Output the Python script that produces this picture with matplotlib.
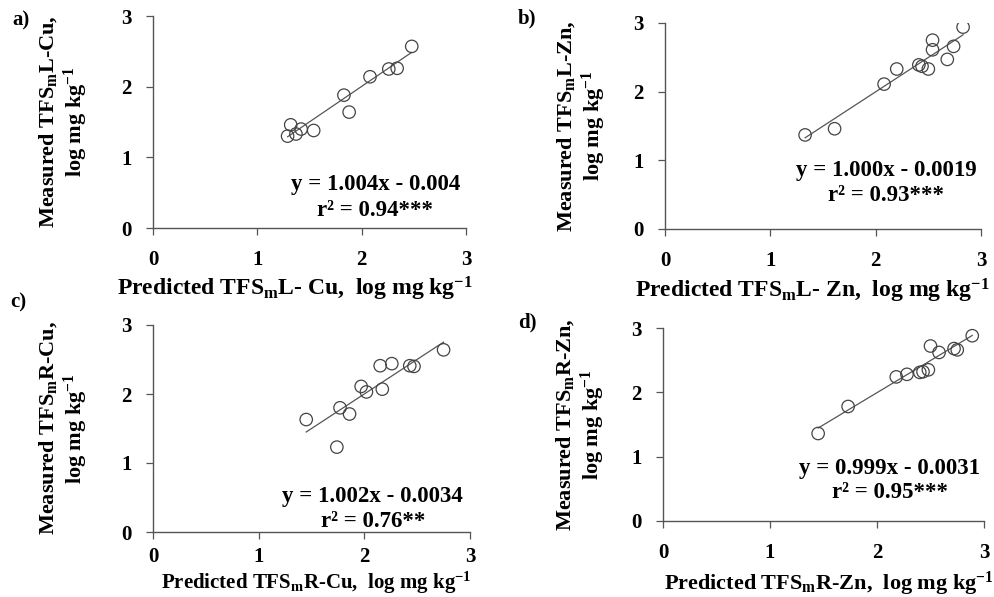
import matplotlib
matplotlib.use('Agg')
import matplotlib.pyplot as plt
import numpy as np

plt.rcParams['font.family'] = 'Liberation Serif'
plt.rcParams['font.weight'] = 'bold'
plt.rcParams['mathtext.fontset'] = 'custom'
plt.rcParams['mathtext.rm'] = 'Liberation Serif:bold'
plt.rcParams['mathtext.bf'] = 'Liberation Serif:bold'
plt.rcParams['mathtext.it'] = 'Liberation Serif:bold'

# a) TFSmL-Cu
a_pred = [1.29, 1.32, 1.37, 1.42, 1.54, 1.83, 1.88, 2.08, 2.26, 2.34, 2.48]
a_meas = [1.30, 1.46, 1.33, 1.40, 1.38, 1.88, 1.64, 2.14, 2.25, 2.26, 2.57]
# b) TFSmL-Zn
b_pred = [1.33, 1.61, 2.08, 2.20, 2.41, 2.44, 2.50, 2.54, 2.54, 2.68, 2.74, 2.83]
b_meas = [1.37, 1.46, 2.11, 2.33, 2.39, 2.37, 2.33, 2.75, 2.61, 2.47, 2.66, 2.94]
# c) TFSmR-Cu
c_pred = [1.45, 1.74, 1.77, 1.86, 1.97, 2.02, 2.15, 2.17, 2.26, 2.43, 2.47, 2.75]
c_meas = [1.63, 1.23, 1.80, 1.71, 2.11, 2.03, 2.41, 2.07, 2.44, 2.41, 2.40, 2.64]
# d) TFSmR-Zn
d_pred = [1.45, 1.73, 2.18, 2.28, 2.40, 2.43, 2.48, 2.50, 2.58, 2.72, 2.75, 2.89]
d_meas = [1.36, 1.78, 2.24, 2.28, 2.31, 2.32, 2.35, 2.72, 2.62, 2.68, 2.66, 2.88]

slopes = [1.004, 1.000, 1.002, 0.999]
intercepts = [-0.004, -0.0019, -0.0034, -0.0031]
eq_text = ['y = 1.004x - 0.004', 'y = 1.000x - 0.0019',
           'y = 1.002x - 0.0034', 'y = 0.999x - 0.0031']
r2_text = ['r² = 0.94***', 'r² = 0.93***', 'r² = 0.76**', 'r² = 0.95***']
panel_labels = ['a)', 'b)', 'c)', 'd)']
xlabels = ['Predicted TFS$_\\mathrm{m}$L- Cu,  log mg kg$^{-1}$',
           'Predicted TFS$_\\mathrm{m}$L- Zn,  log mg kg$^{-1}$',
           'Predicted TFS$_\\mathrm{m}$R-Cu,  log mg kg$^{-1}$',
           'Predicted TFS$_\\mathrm{m}$R-Zn,  log mg kg$^{-1}$']
ylabels = ['Measured TFS$_\\mathrm{m}$L-Cu,\nlog mg kg$^{-1}$',
           'Measured TFS$_\\mathrm{m}$L-Zn,\nlog mg kg$^{-1}$',
           'Measured TFS$_\\mathrm{m}$R-Cu,\nlog mg kg$^{-1}$',
           'Measured TFS$_\\mathrm{m}$R-Zn,\nlog mg kg$^{-1}$']

preds = [a_pred, b_pred, c_pred, d_pred]
meas = [a_meas, b_meas, c_meas, d_meas]

fig = plt.figure(figsize=(9.94, 5.97), dpi=100)
W, H = 994, 597
# axes boxes in pixels: left, right, top, bottom
boxes = [(153, 466, 16, 228), (665, 981, 23, 229),
         (153, 470, 325, 532), (663, 984, 328, 521)]
eq_pos = [(2.13, 0.61, 0.25), (2.10, 0.85, 0.49),
          (2.08, 0.52, 0.15), (2.12, 0.82, 0.44)]
label_pos = [(12, 20), (518, 18), (10, 302), (518, 322)]
ylab_x = [-0.201, -0.18, -0.199, -0.174]
xlab_pos = [(0.452, -0.222), (0.466, -0.233), (0.516, -0.183), (0.516, -0.252)]
xlab_size = [17, 17, 15, 16]
xtick_pad = [10.5, 10.5, 6.0, 10.5]

for i in range(4):
    l, r, t, b = boxes[i]
    ax = fig.add_axes([l / W, 1 - b / H, (r - l) / W, (b - t) / H])
    x = np.array(preds[i])
    y = np.array(meas[i])
    xs = np.array([x.min(), x.max()])
    ax.plot(xs, slopes[i] * xs + intercepts[i], color='#555555', lw=0.9, zorder=1)
    ax.scatter(x, y, s=80, facecolors='none', edgecolors='#444444', linewidths=0.9, zorder=2)
    ax.set_xlim(0, 3)
    ax.set_ylim(0, 3)
    ax.set_xticks([0, 1, 2, 3])
    ax.set_yticks([0, 1, 2, 3])
    for side in ['top', 'right']:
        ax.spines[side].set_visible(False)
    for side in ['left', 'bottom']:
        ax.spines[side].set_color('#555555')
        ax.spines[side].set_linewidth(1.0)
    ax.tick_params(direction='out', length=5, width=0.9, color='#555555',
                   labelsize=15, pad=10.5)
    ax.tick_params(axis='x', pad=xtick_pad[i])
    ax.set_xlabel(xlabels[i], fontsize=xlab_size[i], fontweight='bold', va='top')
    ax.xaxis.set_label_coords(*xlab_pos[i])
    ax.set_ylabel(ylabels[i], fontsize=16, fontweight='bold', linespacing=1.15)
    ax.yaxis.set_label_coords(ylab_x[i], 0.5)
    ex, ey, ry = eq_pos[i]
    ax.text(ex, ey, eq_text[i], ha='center', va='center', fontsize=16.5, fontweight='bold')
    ax.text(ex, ry, r2_text[i], ha='center', va='center', fontsize=16.5, fontweight='bold')
    fig.text(label_pos[i][0] / W, 1 - label_pos[i][1] / H, panel_labels[i],
             ha='left', va='center', fontsize=15, fontweight='bold')

fig.savefig('out.png', dpi=100)
